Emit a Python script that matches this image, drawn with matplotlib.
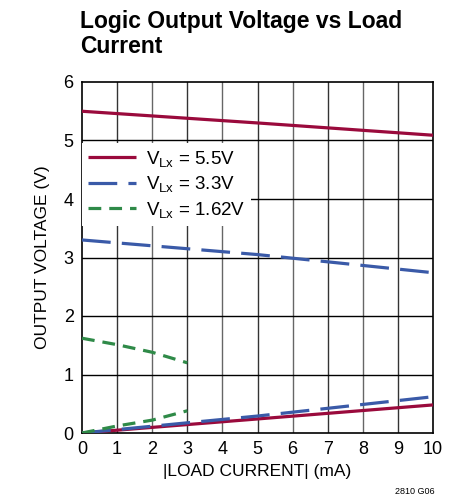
import matplotlib
matplotlib.use("Agg")
import matplotlib.pyplot as plt
from matplotlib import font_manager

narrow = "Liberation Sans Narrow"
names = {f.name for f in font_manager.fontManager.ttflist}
if narrow not in names:
    narrow = "Liberation Sans"
plt.rcParams['font.family'] = [narrow, 'DejaVu Sans']
plt.rcParams['mathtext.fontset'] = 'custom'
plt.rcParams['mathtext.rm'] = narrow
plt.rcParams['mathtext.it'] = narrow

# Data
x55_hi = [0, 5, 10]
y55_hi = [5.5, 5.3, 5.09]
x33_hi = [0, 5, 10]
y33_hi = [3.3, 3.05, 2.74]
x162_hi = [0, 1, 2, 3]
y162_hi = [1.62, 1.51, 1.38, 1.20]
x55_lo = [0, 5, 10]
y55_lo = [0.0, 0.24, 0.48]
x33_lo = [0, 5, 10]
y33_lo = [0.0, 0.29, 0.62]
x162_lo = [0, 1, 2, 3]
y162_lo = [0.0, 0.12, 0.22, 0.38]
xticks = list(range(0, 11))
yticks = list(range(0, 7))

red = "#9a0a3c"
blue = "#3a5aa8"
green = "#2f8a48"

fig = plt.figure(figsize=(4.58, 4.99), dpi=100)
ax = fig.add_axes([82/458, 66/499, 351/458, 351/499])

for xv in xticks[1:-1]:
    ax.axvline(xv, color="#333333" if xv % 2 else "#666666", lw=1.0, zorder=1)
for yv in yticks[1:-1]:
    ax.axhline(yv, color="black", lw=1.0, zorder=1)

ax.plot(x55_hi, y55_hi, color=red, lw=2.3, solid_capstyle='butt', zorder=3,
        label=r'V$_{\mathrm{Lx}}$ = 5.5V')
ax.plot(x33_hi, y33_hi, color=blue, lw=2.3, dashes=(9, 3.5), zorder=3,
        label=r'V$_{\mathrm{Lx}}$ = 3.3V')
ax.plot(x162_hi, y162_hi, color=green, lw=2.3, dashes=(4, 2.5), zorder=3,
        label=r'V$_{\mathrm{Lx}}$ = 1.62V')
ax.plot(x55_lo, y55_lo, color=red, lw=2.3, solid_capstyle='butt', zorder=3)
ax.plot(x33_lo, y33_lo, color=blue, lw=2.3, dashes=(9, 3.5), zorder=3)
ax.plot(x162_lo, y162_lo, color=green, lw=2.3, dashes=(4, 2.5), zorder=3)

ax.set_xlim(0, 10)
ax.set_ylim(0, 6)
ax.set_xticks(xticks)
ax.set_yticks(yticks)
ax.tick_params(labelsize=13, length=0, pad=6)
for s in ax.spines.values():
    s.set_linewidth(1.2)
    s.set_color("black")

ax.set_xlabel("|LOAD CURRENT| (mA)", fontsize=12.5, labelpad=4)
ax.set_ylabel("OUTPUT VOLTAGE (V)", fontsize=12.5, labelpad=10)

leg = ax.legend(loc='upper left', bbox_to_anchor=(0.0, 0.826), frameon=True,
                fontsize=13.5, handlelength=2.6, handletextpad=0.5,
                labelspacing=0.3, borderpad=0.3, borderaxespad=0.0,
                fancybox=False)
leg.get_frame().set_edgecolor('none')
leg.get_frame().set_facecolor('white')
leg.get_frame().set_alpha(1.0)
leg.set_zorder(4)

fig.text(80/458, 1 - 34/499, "Logic Output Voltage vs Load\nCurrent", fontsize=16.5,
         fontweight='bold', ha='left', va='center', linespacing=1.1)
fig.text(435/458, 1 - 492/499, "2810 G06", fontsize=6.5, ha='right', va='center')

fig.savefig("out.png", dpi=100)
